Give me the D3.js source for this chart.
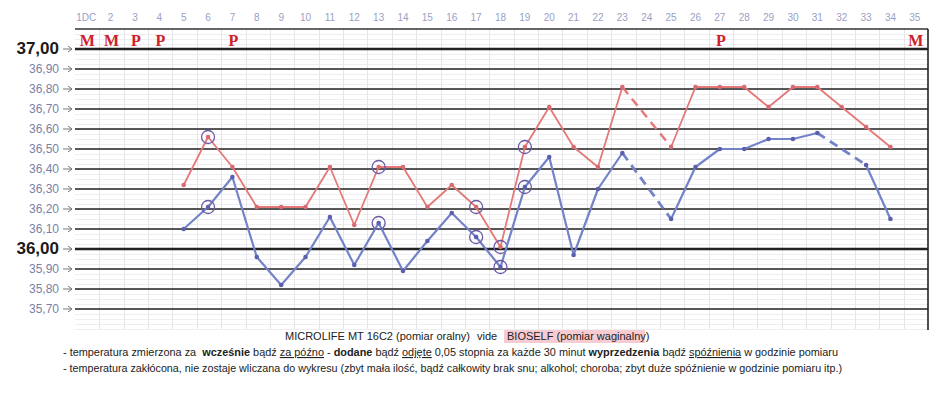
<!DOCTYPE html>
<html lang="pl">
<head>
    <meta charset="UTF-8">
    <title>Wykres temperatur</title>
    <script src="https://cdnjs.cloudflare.com/ajax/libs/d3/7.8.5/d3.min.js"></script>
</head>
<style>
    body{
        margin:0;
        background:#fff;
    }
    #chart{
        width:948px;
        height:393px;
    }
    .note{
        font-family:"Liberation Sans", Arial, sans-serif;
        font-size:11px;
        fill:#222;
    }
</style>
<body>
<div id="chart"></div>
<script>
    // dni cyklu (kolumny)
    var dayLabels = ["1DC","2","3","4","5","6","7","8","9","10","11","12","13","14","15","16","17","18",
        "19","20","21","22","23","24","25","26","27","28","29","30","31","32","33","34","35"];

    // MICROLIFE MT 16C2 (pomiar oralny), od dnia 1
    var oralTemps = [null,null,null,null,36.10,36.21,36.36,35.96,35.82,35.96,36.16,35.92,36.13,35.89,36.04,
        36.18,36.06,35.91,36.31,36.46,35.97,36.30,36.48,null,36.15,36.41,36.50,36.50,36.55,36.55,36.58,null,
        36.42,36.15,null];

    // BIOSELF (pomiar waginalny)
    var vagTemps = [null,null,null,null,36.32,36.56,36.41,36.21,36.21,36.21,36.41,36.12,36.41,36.41,36.21,
        36.32,36.21,36.01,36.51,36.71,36.51,36.41,36.81,null,36.51,36.81,36.81,36.81,36.71,36.81,36.81,36.71,
        36.61,36.51,null];

    // pomiary skorygowane (zakreslone)
    var circledDays = ["6","13","17","18","19"];

    // oznaczenia nad wykresem
    var markDays = ["1DC","2","3","4","7","27","35"];
    var markText = ["M","M","P","P","P","P","M"];

    var tempTicks = [37.0,36.9,36.8,36.7,36.6,36.5,36.4,36.3,36.2,36.1,36.0,35.9,35.8,35.7];

    (function(){
        var width = 948, height = 393;
        var gLeft = 75, gRight = 928, gTop = 29, gBottom = 329;

        var svg = d3.select("#chart").append("svg")
            .attr("width", width)
            .attr("height", height);

        var x = d3.scaleBand().domain(dayLabels).range([gLeft, gRight]);
        var y = d3.scaleLinear().domain([35.6, 37.1]).range([gBottom, gTop]);

        // drobna kratka (papier)
        var minor = d3.range(35.6, 37.1, 0.025);
        svg.append("g").selectAll("line").data(minor).enter().append("line")
            .attr("x1", gLeft).attr("x2", gRight)
            .attr("y1", function(d){ return Math.round(y(d)) + 0.5; })
            .attr("y2", function(d){ return Math.round(y(d)) + 0.5; })
            .style("stroke", "#eeeef1").style("stroke-width", 1);

        svg.append("g").selectAll("line").data(dayLabels.slice(1)).enter().append("line")
            .attr("x1", function(d){ return Math.round(x(d)) + 0.5; })
            .attr("x2", function(d){ return Math.round(x(d)) + 0.5; })
            .attr("y1", gTop).attr("y2", gBottom)
            .style("stroke", "#e6e6ea").style("stroke-width", 1);

        // linie glowne
        svg.append("g").selectAll("line").data(tempTicks).enter().append("line")
            .attr("x1", gLeft).attr("x2", gRight)
            .attr("y1", function(d){ return y(d); })
            .attr("y2", function(d){ return y(d); })
            .style("stroke", "#222")
            .style("stroke-width", function(d){ return (d == 37.0 || d == 36.0) ? 2.6 : 1.7; });

        // ramka gora / prawo
        svg.append("line").attr("x1", gLeft).attr("x2", gRight).attr("y1", y(37.1)).attr("y2", y(37.1))
            .style("stroke", "#333").style("stroke-width", 1.4);
        svg.append("line").attr("x1", gRight).attr("x2", gRight).attr("y1", y(37.1)).attr("y2", gBottom + 1)
            .style("stroke", "#222").style("stroke-width", 1.6);

        // opisy osi Y
        var fmt = function(d){ return d3.format(".2f")(d).replace(".", ","); };
        var big = function(d){ return d == 37.0 || d == 36.0; };
        var ylab = svg.append("g");
        ylab.selectAll("text").data(tempTicks).enter().append("text")
            .attr("x", 59)
            .attr("y", function(d){ return y(d) + (big(d) ? 5 : 4); })
            .attr("text-anchor", "end")
            .style("font-family", "'Liberation Sans', Arial, sans-serif")
            .style("font-size", function(d){ return big(d) ? "17px" : "12px"; })
            .style("font-weight", function(d){ return big(d) ? "bold" : "normal"; })
            .style("fill", function(d){ return big(d) ? "#1a1a1a" : "#7a7fa6"; })
            .text(fmt);
        ylab.selectAll("path").data(tempTicks).enter().append("path")
            .attr("d", function(d){
                var yy = y(d);
                return "M63," + yy + "L72," + yy + "M68," + (yy - 3) + "L72," + yy + "L68," + (yy + 3);
            })
            .style("fill", "none").style("stroke", "#777").style("stroke-width", 1);

        // numery dni
        svg.append("g").selectAll("text").data(dayLabels).enter().append("text")
            .attr("x", function(d){ return x(d) + x.bandwidth() / 2 - 1; })
            .attr("y", 21)
            .attr("text-anchor", "middle")
            .style("font-family", "'Liberation Sans', Arial, sans-serif")
            .style("font-size", "10px")
            .style("fill", "#9aa0c4")
            .text(function(d){ return d; });

        // M / P
        svg.append("g").selectAll("text").data(markDays).enter().append("text")
            .attr("x", function(d){ return x(d) + x.bandwidth() / 2; })
            .attr("y", 46)
            .attr("text-anchor", "middle")
            .style("font-family", "'Liberation Serif', serif")
            .style("font-size", "16px")
            .style("font-weight", "bold")
            .style("fill", "#d0202a")
            .text(function(d, i){ return markText[i]; });

        function drawSeries(values, color, dotColor, lw){
            var pts = dayLabels.map(function(d, i){ return {day: d, v: values[i]}; });
            var cx = function(p){ return x(p.day) + x.bandwidth() / 2 - 1; };
            var line = d3.line()
                .defined(function(p){ return p.v != null; })
                .x(cx).y(function(p){ return y(p.v); });
            var g = svg.append("g");

            // brakujacy dzien -> linia przerywana
            var known = pts.filter(function(p){ return p.v != null; });
            for (var i = 1; i < known.length; i++) {
                var a = known[i - 1], b = known[i];
                if (dayLabels.indexOf(b.day) - dayLabels.indexOf(a.day) > 1) {
                    g.append("line")
                        .attr("x1", cx(a)).attr("y1", y(a.v))
                        .attr("x2", cx(b)).attr("y2", y(b.v))
                        .style("stroke", color).style("stroke-width", lw + 0.6)
                        .style("stroke-dasharray", "9,6");
                }
            }
            g.append("path").datum(pts)
                .attr("d", line)
                .style("fill", "none")
                .style("stroke", color)
                .style("stroke-width", lw)
                .style("stroke-linejoin", "round");
            g.selectAll("circle.dot").data(known).enter().append("circle")
                .attr("class", "dot")
                .attr("cx", cx).attr("cy", function(p){ return y(p.v); })
                .attr("r", 2.3)
                .style("fill", dotColor);
            g.selectAll("circle.ring").data(known.filter(function(p){ return circledDays.indexOf(p.day) > -1; }))
                .enter().append("circle")
                .attr("class", "ring")
                .attr("cx", cx).attr("cy", function(p){ return y(p.v); })
                .attr("r", 6.5)
                .style("fill", "none")
                .style("stroke", "#6a5aa6")
                .style("stroke-width", 1.3);
        }

        drawSeries(vagTemps, "#e57878", "#d86a72", 1.8);
        drawSeries(oralTemps, "#7483c8", "#5a5fae", 2.2);

        // legenda / uwagi
        var notes = svg.append("g");
        notes.append("rect")
            .attr("x", 504).attr("y", 330).attr("width", 141).attr("height", 13)
            .style("fill", "#f2a9b4").style("opacity", 0.6);
        var l1 = notes.append("text").attr("class", "note").attr("x", 285).attr("y", 340);
        l1.append("tspan").text("MICROLIFE MT 16C2 (pomiar oralny)");
        l1.append("tspan").attr("x", 477).text("vide");
        l1.append("tspan").attr("x", 507).text("BIOSELF (pomiar waginalny)");

        var l2 = notes.append("text").attr("class", "note").attr("x", 63).attr("y", 356)
            .attr("textLength", 775).attr("lengthAdjust", "spacingAndGlyphs")
            .style("white-space", "pre");
        var parts = [
            ["- temperatura zmierzona za  ", ""], ["wcześnie", "b"], [" bądź ", ""], ["za późno", "u"],
            [" - ", ""], ["dodane", "b"], [" bądź ", ""], ["odjęte", "u"],
            [" 0,05 stopnia za każde 30 minut ", ""], ["wyprzedzenia", "b"], [" bądź ", ""],
            ["spóźnienia", "u"], [" w godzinie pomiaru", ""]
        ];
        parts.forEach(function(p){
            var t = l2.append("tspan").text(p[0]);
            if (p[1] == "b") t.style("font-weight", "bold");
            if (p[1] == "u") t.style("text-decoration", "underline");
        });

        notes.append("text").attr("class", "note").attr("x", 63).attr("y", 372)
            .attr("textLength", 779).attr("lengthAdjust", "spacingAndGlyphs")
            .text("- temperatura zakłócona, nie zostaje wliczana do wykresu (zbyt mała ilość, bądź całkowity brak snu; alkohol; choroba; zbyt duże spóźnienie w godzinie pomiaru itp.)");
    }());
</script>
</body>
</html>
